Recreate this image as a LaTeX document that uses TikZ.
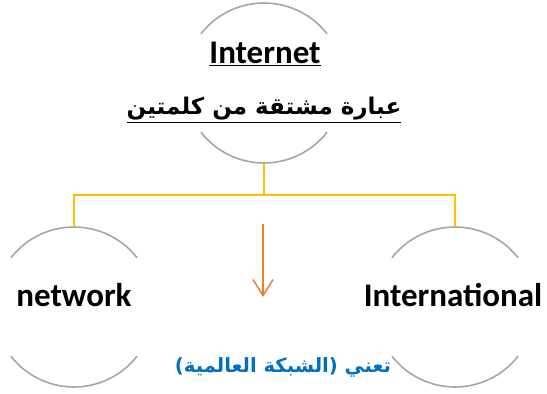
\documentclass[tikz,border=0pt]{standalone}
\usepackage{fontspec}
\setmainfont{Carlito}
\newfontfamily\arabicfont[Script=Arabic]{DejaVu Sans}
\TeXXeTstate=1
\usetikzlibrary{arrows.meta}
\usetikzlibrary{positioning}

\definecolor{ringgray}{RGB}{166,166,166}
\definecolor{linkyellow}{RGB}{255,192,0}
\definecolor{arroworange}{RGB}{237,125,49}
\definecolor{textblue}{RGB}{0,112,192}

\tikzset{
    ring/.style = {circle, minimum size=160pt, inner sep=0pt, outer sep=0pt},
    arcline/.style = {draw=ringgray, line width=1.6pt},
    link/.style = {draw=linkyellow, line width=2.2pt},
    word/.style = {font=\fontsize{33}{36}\selectfont\bfseries, inner sep=0pt, anchor=base}
}

\begin{document}
\begin{tikzpicture}[x=1pt, y=1pt]
    \useasboundingbox (0,0) rectangle (547,394);
    % the three rings
    \node[ring] (top) at (264,311) {};
    \node[ring] (net) at (74,87) {};
    \node[ring] (intl) at (455,87) {};
    \foreach \r in {top,net,intl} {
        \draw[arcline] (\r.38) arc[start angle=38, end angle=142, radius=80pt];
        \draw[arcline] (\r.-38) arc[start angle=-38, end angle=-142, radius=80pt];
    }
    % texts
    \node[word] (title) at (265,330) {\underline{Internet}};
    \node[word, font=\arabicfont\fontsize{23}{28}\selectfont\bfseries] (sub) at (264,279)
        {\underline{\beginR عبارة مشتقة من كلمتين\endR}};
    \node[word] (netw) at (74,87) {network};
    \node[word] (intw) at (453,87) {International};
    \node[word, text=textblue, font=\arabicfont\fontsize{19.6}{24}\selectfont\bfseries] (mean) at (283,21)
        {\beginR تعني (الشبكة العالمية)\endR};
    % connectors
    \draw[link] (top.south) -- ++(0,-32) -| (net.north);
    \draw[link] (top.south) -- ++(0,-32) -| (intl.north);
    \coordinate (arrowtop) at (263,170);
    \coordinate (arrowend) at (263,97);
    \draw[arroworange, line width=1.5pt, -{Straight Barb[length=16pt, width=20pt]}] (arrowtop) -- (arrowend);
\end{tikzpicture}
\end{document}
